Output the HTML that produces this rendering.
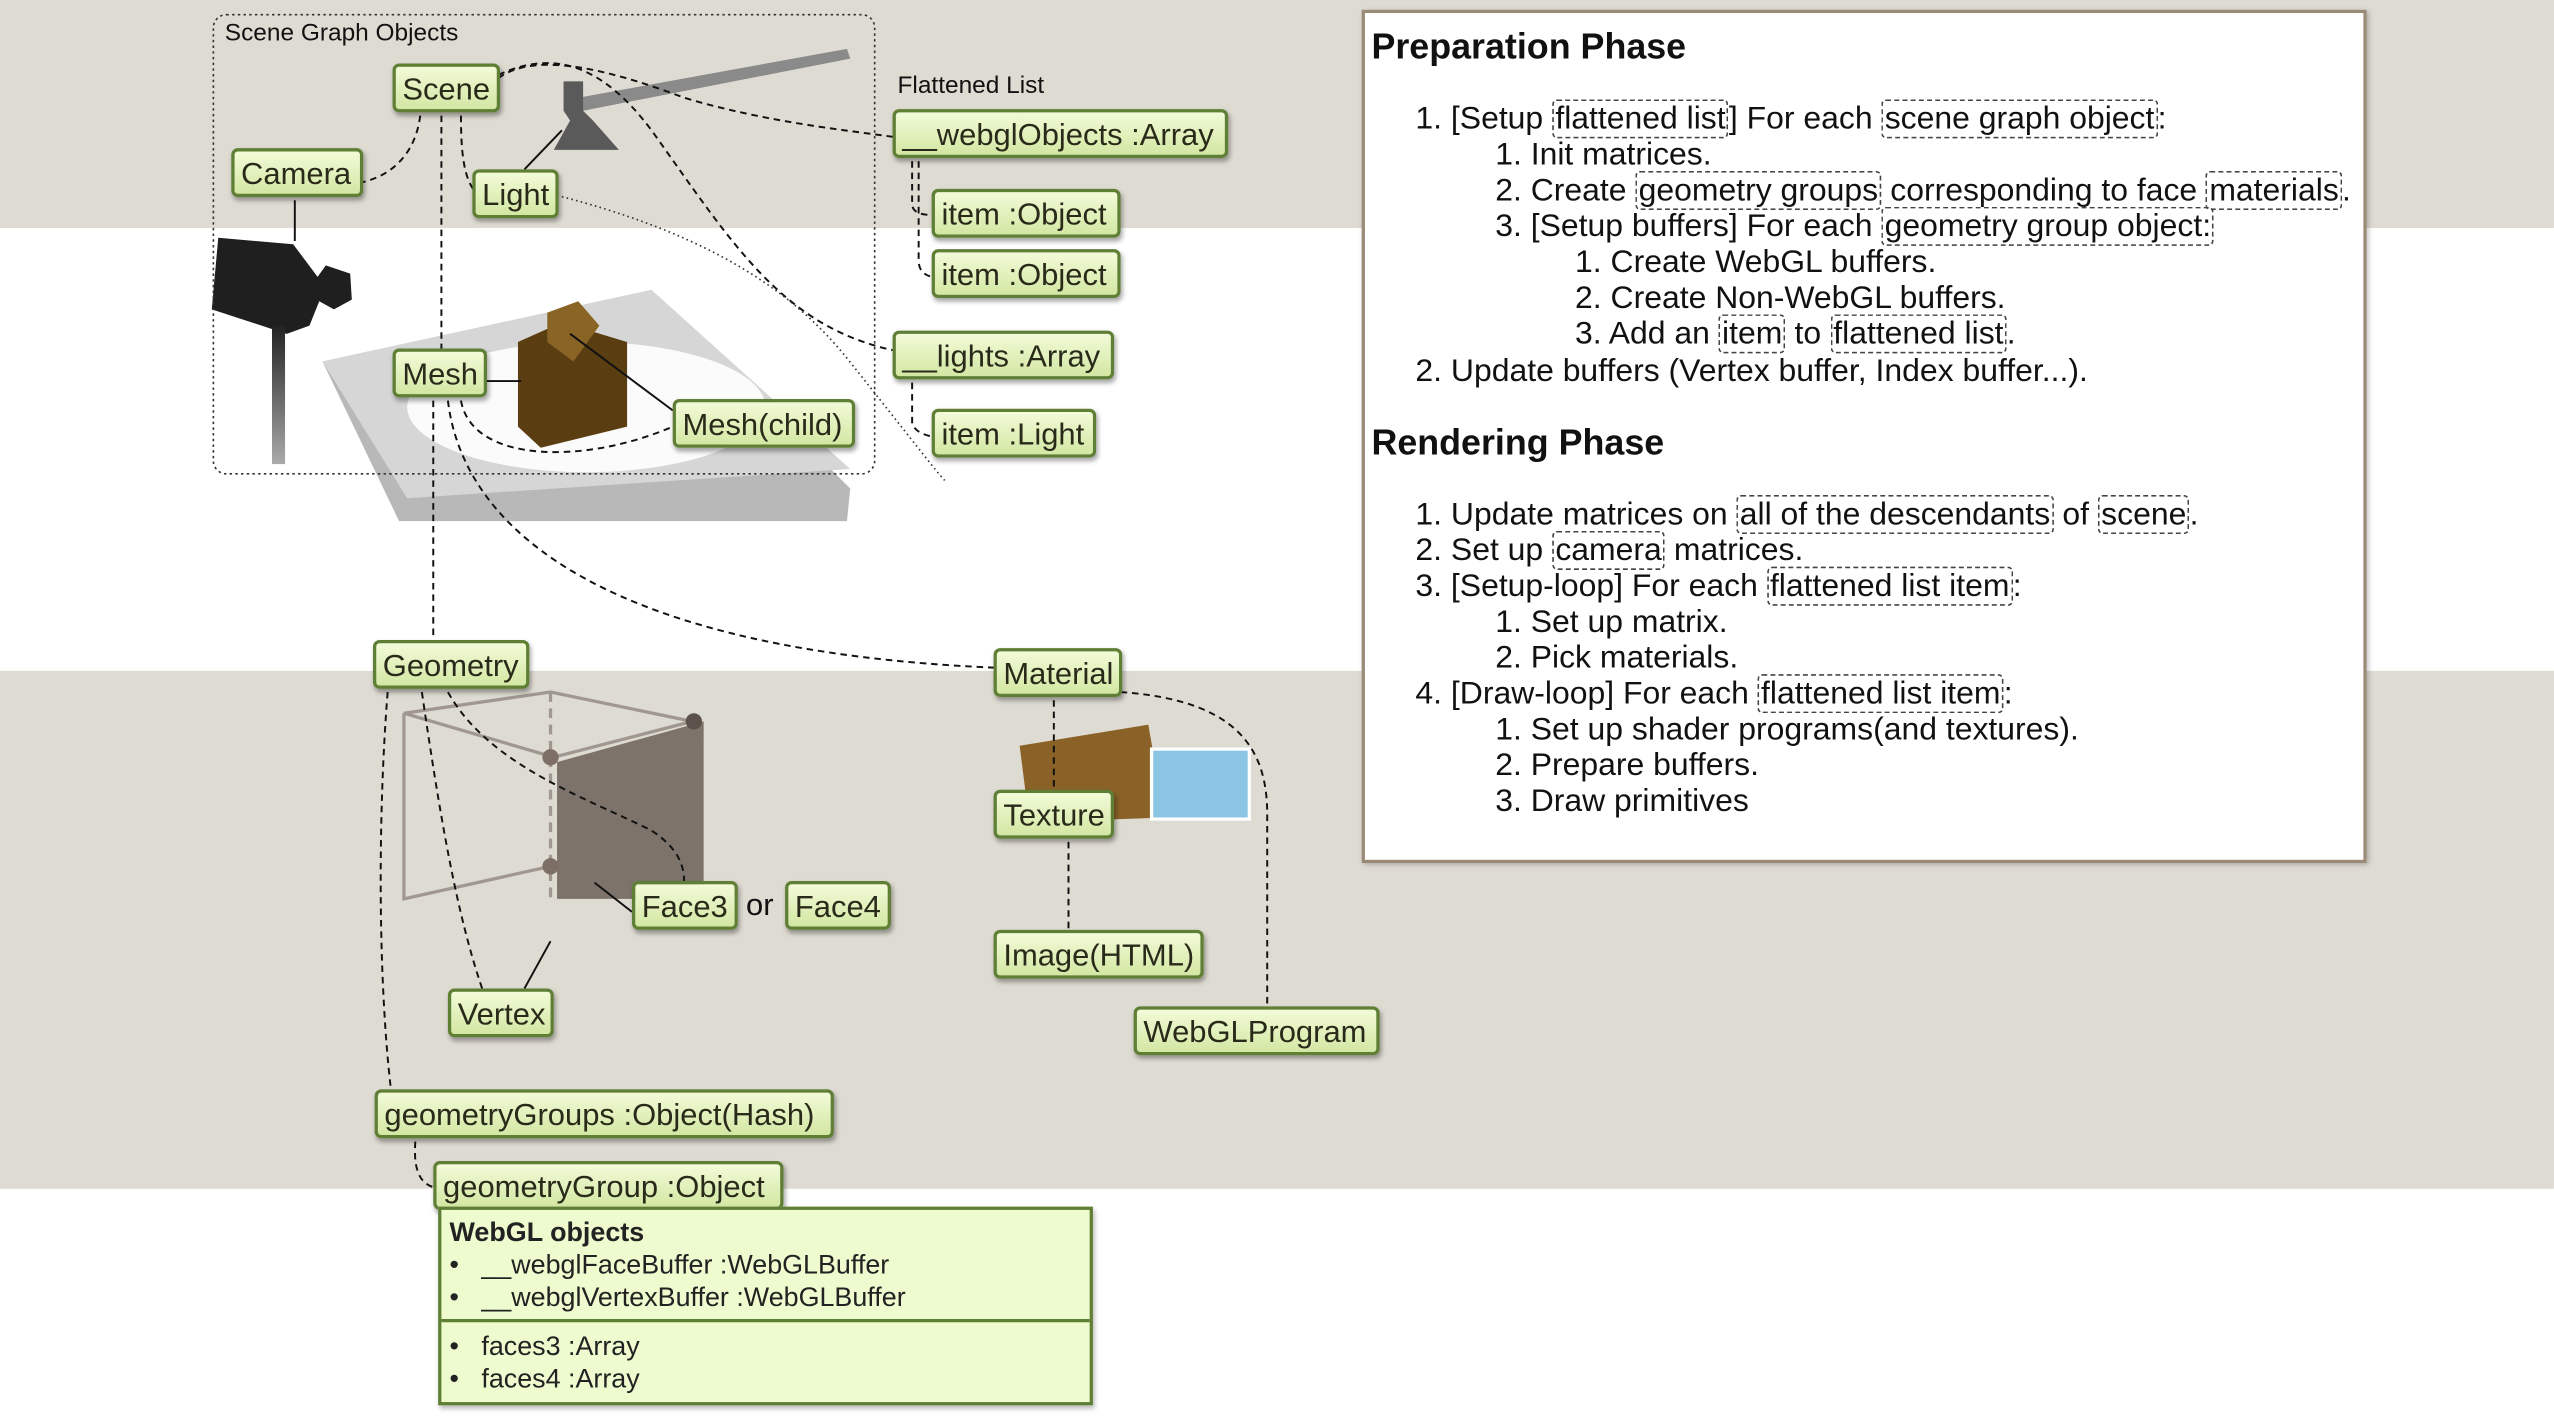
<!DOCTYPE html>
<html><head><meta charset="utf-8"><style>
html,body{margin:0;padding:0;width:2554px;height:1420px;overflow:hidden;background:#fff}
#c{position:absolute;left:0;top:0;width:1568px;height:872px;transform:scale(1.6288,1.6284);transform-origin:0 0;font-family:"Liberation Sans",sans-serif}
.band{position:absolute;left:0;width:1568px;background:#dedbd2}
.n{position:absolute;height:30px;line-height:30px;padding:0 4px;box-sizing:border-box;font-size:19px;color:#2a2a1a;background:linear-gradient(#f2fbd8,#d3e7a3);border:2px solid #5f7f35;border-radius:4px;box-shadow:1px 2px 3px rgba(0,0,0,.35);white-space:nowrap}
.t{position:absolute;font-size:19.6px;color:#111;white-space:nowrap;line-height:22px}
.h{position:absolute;font-size:22px;font-weight:bold;color:#111}
.d{border:1px dashed #444;border-radius:3px;padding:0 1px}
.lbl{position:absolute;font-size:15px;color:#111}
</style></head><body><div id="c">
<div class="band" style="top:0;height:140px"></div>
<div class="band" style="top:412px;height:318px"></div>
<svg width="1568" height="872" style="position:absolute;left:0;top:0">
<defs><linearGradient id="st" x1="0" y1="0" x2="0" y2="1"><stop offset="0" stop-color="#222"/><stop offset="1" stop-color="#aaa"/></linearGradient></defs>
<!-- lamp -->
<path d="M355 60 L520 30 L522 36 L358 68Z" fill="#8a8a8a"/>
<path d="M346 50 h12 v18 l6 6 l16 18 h-40 l10 -18 l-4 -6z" fill="#5a5a5a"/>
<!-- plate -->
<path d="M198 222 L400 178 L522 300 L520 320 L245 320 Z" fill="#b8b8b8"/>
<path d="M198 222 L400 178 L522 288 L250 306 Z" fill="#d6d6d6"/>
<ellipse cx="360" cy="250" rx="110" ry="40" fill="#fbfbfb"/>
<!-- cube -->
<path d="M318 210 L345 198 L385 210 L385 262 L332 275 L318 262Z" fill="#5a3e12"/>
<path d="M336 192 L355 185 L368 200 L352 222 L336 210Z" fill="#8a6424"/>
<!-- camera -->
<path d="M134 146 L180 150 L195 170 L200 163 L215 168 L216 184 L205 190 L196 185 L190 200 L176 205 L130 190Z" fill="#1f1f1f"/>
<rect x="167" y="200" width="8" height="85" fill="url(#st)"/>
<!-- geometry cube -->
<g stroke="#a09890" stroke-width="2" fill="none">
<path d="M248 438 L338 425 L425 443 L340 465 Z"/>
<path d="M248 438 V552 L338 532"/><path d="M338 425 V555" stroke-dasharray="6 4"/>
</g>
<path d="M342 468 L432 443 L432 552 L342 552Z" fill="#7d736a"/>
<circle cx="338" cy="465" r="5" fill="#7d6f66"/><circle cx="426" cy="443" r="5" fill="#5d524b"/><circle cx="338" cy="532" r="5" fill="#7d6f66"/>
<!-- textures -->
<path d="M626 458 L705 445 L715 502 L632 505Z" fill="#8a6228"/>
<rect x="707" y="460" width="60" height="43" fill="#8cc4e4" stroke="#fff" stroke-width="2"/>
<!-- scene box -->
<rect x="131" y="9" width="406" height="282" rx="8" fill="none" stroke="#333" stroke-dasharray="1.5 2"/>
<g fill="none" stroke="#111" stroke-width="1.2" stroke-dasharray="4 3">
<path d="M258 71 C255 95 240 108 222 112"/>
<path d="M271 71 V214"/><path d="M266 246 V393"/>
<path d="M283 71 C283 95 285 110 292 118"/>
<path d="M306 48 C330 30 380 45 420 60 C470 75 520 80 548 84"/>
<path d="M306 46 C340 30 370 40 400 80 C450 150 480 200 548 215"/>
<path d="M560 99 V125 Q560 132 572 132"/><path d="M564 99 V160 Q564 168 572 170"/>
<path d="M560 235 V260 Q562 266 572 268"/>
<path d="M283 246 C290 285 360 285 413 262"/>
<path d="M275 246 C285 330 380 400 610 410"/>
<path d="M647 430 V485"/><path d="M656 517 V571"/>
<path d="M688 425 C760 430 778 460 778 500 V618"/>
<path d="M238 425 C232 500 232 600 240 669"/>
<path d="M259 425 C270 500 280 560 296 607"/>
<path d="M275 425 C300 470 360 490 400 510 C415 520 420 530 420 541"/>
<path d="M255 701 C254 715 256 726 266 729"/>
</g>
<path d="M342 120 C420 140 480 170 520 220 C560 270 575 290 580 295" fill="none" stroke="#333" stroke-width="1" stroke-dasharray="1 2"/>
<g stroke="#111" stroke-width="1.2">
<line x1="181" y1="123" x2="181" y2="148"/><line x1="322" y1="104" x2="345" y2="80"/>
<line x1="298" y1="234" x2="320" y2="234"/><line x1="413" y1="252" x2="350" y2="205"/>
<line x1="388" y1="560" x2="365" y2="542"/><line x1="322" y1="607" x2="338" y2="578"/>
</g>
</svg>
<div class="lbl" style="left:138px;top:12px">Scene Graph Objects</div>
<div class="lbl" style="left:551px;top:44px">Flattened List</div>
<div class="n" style="left:241px;top:39px;width:66px">Scene</div>
<div class="n" style="left:142px;top:91px;width:81px">Camera</div>
<div class="n" style="left:290px;top:104px;width:53px">Light</div>
<div class="n" style="left:548px;top:67px;width:206px">__webglObjects :Array</div>
<div class="n" style="left:572px;top:116px;width:116px">item :Object</div>
<div class="n" style="left:572px;top:153px;width:116px">item :Object</div>
<div class="n" style="left:548px;top:203px;width:136px">__lights :Array</div>
<div class="n" style="left:572px;top:251px;width:101px">item :Light</div>
<div class="n" style="left:241px;top:214px;width:58px">Mesh</div>
<div class="n" style="left:413px;top:245px;width:112px">Mesh(child)</div>
<div class="n" style="left:229px;top:393px;width:96px">Geometry</div>
<div class="n" style="left:610px;top:398px;width:79px">Material</div>
<div class="n" style="left:610px;top:485px;width:74px">Texture</div>
<div class="n" style="left:388px;top:541px;width:65px">Face3</div>
<div class="t" style="left:458px;top:546px;font-size:19px">or</div>
<div class="n" style="left:482px;top:541px;width:65px">Face4</div>
<div class="n" style="left:610px;top:571px;width:129px">Image(HTML)</div>
<div class="n" style="left:275px;top:607px;width:65px">Vertex</div>
<div class="n" style="left:696px;top:618px;width:151px">WebGLProgram</div>
<div class="n" style="left:230px;top:669px;width:282px">geometryGroups :Object(Hash)</div>
<div class="n" style="left:266px;top:713px;width:215px">geometryGroup :Object</div>
<div style="position:absolute;left:269px;top:741px;width:402px;height:122px;box-sizing:border-box;background:#eefbcf;border:2px solid #5f7f35;box-shadow:1px 2px 3px rgba(0,0,0,.3);font-size:16.5px;color:#222">
<div style="height:69px;border-bottom:2px solid #5f7f35;padding:4px 5px;box-sizing:border-box;line-height:20px"><b>WebGL objects</b><br>•&nbsp;&nbsp;&nbsp;__webglFaceBuffer :WebGLBuffer<br>•&nbsp;&nbsp;&nbsp;__webglVertexBuffer :WebGLBuffer</div>
<div style="padding:5px 5px;line-height:20px">•&nbsp;&nbsp;&nbsp;faces3 :Array<br>•&nbsp;&nbsp;&nbsp;faces4 :Array</div>
</div>
<div style="position:absolute;left:836px;top:6px;width:617px;height:524px;box-sizing:border-box;background:#fff;border:2px solid #9a8a78;box-shadow:1px 1px 3px rgba(0,0,0,.25)"></div>
<div class="h" style="left:842px;top:16px">Preparation Phase</div>
<div class="t" style="left:869px;top:62px">1. [Setup <span class="d">flattened list</span>] For each <span class="d">scene graph object</span>:</div>
<div class="t" style="left:918px;top:84px">1. Init matrices.</div>
<div class="t" style="left:918px;top:106px">2. Create <span class="d">geometry groups</span> corresponding to face <span class="d">materials</span>.</div>
<div class="t" style="left:918px;top:128px">3. [Setup buffers] For each <span class="d">geometry group object:</span></div>
<div class="t" style="left:967px;top:150px">1. Create WebGL buffers.</div>
<div class="t" style="left:967px;top:172px">2. Create Non-WebGL buffers.</div>
<div class="t" style="left:967px;top:194px">3. Add an <span class="d">item</span> to <span class="d">flattened list</span>.</div>
<div class="t" style="left:869px;top:217px">2. Update buffers (Vertex buffer, Index buffer...).</div>
<div class="h" style="left:842px;top:259px">Rendering Phase</div>
<div class="t" style="left:869px;top:305px">1. Update matrices on <span class="d">all of the descendants</span> of <span class="d">scene</span>.</div>
<div class="t" style="left:869px;top:327px">2. Set up <span class="d">camera</span> matrices.</div>
<div class="t" style="left:869px;top:349px">3. [Setup-loop] For each <span class="d">flattened list item</span>:</div>
<div class="t" style="left:918px;top:371px">1. Set up matrix.</div>
<div class="t" style="left:918px;top:393px">2. Pick materials.</div>
<div class="t" style="left:869px;top:415px">4. [Draw-loop] For each <span class="d">flattened list item</span>:</div>
<div class="t" style="left:918px;top:437px">1. Set up shader programs(and textures).</div>
<div class="t" style="left:918px;top:459px">2. Prepare buffers.</div>
<div class="t" style="left:918px;top:481px">3. Draw primitives</div>
</div></body></html>
